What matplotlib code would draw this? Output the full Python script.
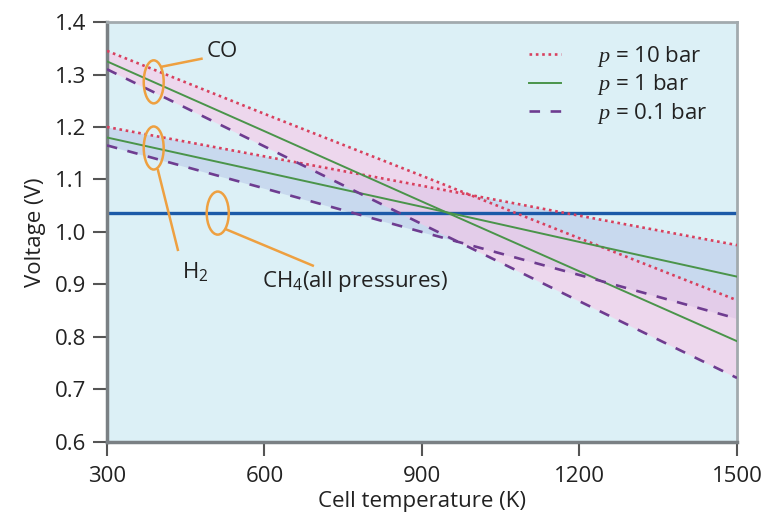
import matplotlib
matplotlib.use("Agg")
import matplotlib.pyplot as plt
from matplotlib.patches import Ellipse
import numpy as np

plt.rcParams['font.family'] = ['Open Sans', 'DejaVu Sans']
plt.rcParams['mathtext.fontset'] = 'custom'
plt.rcParams['mathtext.rm'] = 'Open Sans'
plt.rcParams['mathtext.it'] = 'Liberation Serif:italic'

# Data
temperature = [300, 600, 900, 1200, 1500]
co_p10 = [1.345, 1.225, 1.107, 0.988, 0.870]
co_p1 = [1.325, 1.192, 1.058, 0.925, 0.792]
co_p01 = [1.310, 1.163, 1.015, 0.868, 0.722]
h2_p10 = [1.200, 1.144, 1.088, 1.031, 0.975]
h2_p1 = [1.180, 1.114, 1.048, 0.981, 0.915]
h2_p01 = [1.165, 1.083, 1.000, 0.918, 0.835]
ch4_voltage = 1.036
legend_labels = ['$p$ = 10 bar', '$p$ = 1 bar', '$p$ = 0.1 bar']
x_ticks = [300, 600, 900, 1200, 1500]
y_ticks = [0.6, 0.7, 0.8, 0.9, 1.0, 1.1, 1.2, 1.3, 1.4]

red = '#d8405e'
green = '#4a944a'
purple = '#6e3c90'
blue = '#1c5aa8'
orange = '#eea040'
text_c = '#222222'

fig = plt.figure(figsize=(7.68, 5.19), dpi=100)
ax = fig.add_axes([0.1393, 0.1484, 0.8203, 0.8092])
ax.set_facecolor('#dcf0f6')

# bands
ax.fill_between(temperature, h2_p01, h2_p10, color='#b0bde6', alpha=0.45, lw=0, zorder=1)
ax.fill_between(temperature, co_p01, co_p10, color='#ffc0e6', alpha=0.50, lw=0, zorder=1)

ax.axhline(ch4_voltage, color=blue, lw=2.4, zorder=2)

dot = (0, (1.0, 1.4))
dash = (0, (4, 4))
l10, = ax.plot(temperature, co_p10, color=red, lw=1.9, ls=dot, zorder=3)
ax.plot(temperature, h2_p10, color=red, lw=1.9, ls=dot, zorder=3)
l1, = ax.plot(temperature, co_p1, color=green, lw=1.4, zorder=3)
ax.plot(temperature, h2_p1, color=green, lw=1.4, zorder=3)
l01, = ax.plot(temperature, co_p01, color=purple, lw=1.9, ls=dash, zorder=3)
ax.plot(temperature, h2_p01, color=purple, lw=1.9, ls=dash, zorder=3)

ax.set_xlim(300, 1500)
ax.set_ylim(0.6, 1.4)
ax.set_xticks(x_ticks)
ax.set_yticks(y_ticks)
ax.set_yticklabels([f'{v:.1f}' for v in y_ticks])
ax.tick_params(axis='both', direction='out', length=10, width=1.5, color='#555555',
               labelsize=16, labelcolor=text_c)
ax.tick_params(axis='x', pad=7)
ax.tick_params(axis='y', pad=5)

for side in ['left', 'bottom']:
    ax.spines[side].set_color('#7a8084')
    ax.spines[side].set_linewidth(2.5)
for side in ['top', 'right']:
    ax.spines[side].set_color('#a2aaae')
    ax.spines[side].set_linewidth(2.0)

ax.set_xlabel('Cell temperature (K)', fontsize=16, color=text_c, labelpad=3)
ax.set_ylabel('Voltage (V)', fontsize=16, color=text_c, labelpad=6)

leg = ax.legend([l10, l1, l01], legend_labels, loc='upper right', frameon=False,
                fontsize=16, handlelength=1.45, handletextpad=1.6, labelspacing=0.15,
                bbox_to_anchor=(0.985, 0.995), prop={'size': 16})
for t in leg.get_texts():
    t.set_color(text_c)

# annotations (ellipses + leader lines)
ell_kw = dict(fill=False, edgecolor=orange, lw=1.8, zorder=4)
ax.add_patch(Ellipse((389, 1.286), 38, 0.082, **ell_kw))
ax.add_patch(Ellipse((389, 1.160), 38, 0.082, **ell_kw))
ax.add_patch(Ellipse((511, 1.036), 42, 0.082, **ell_kw))
ax.plot([405, 480], [1.315, 1.33], color=orange, lw=1.8, zorder=4)
ax.plot([397, 435], [1.118, 0.966], color=orange, lw=1.8, zorder=4)
ax.plot([527, 692], [1.005, 0.936], color=orange, lw=1.8, zorder=4)

ax.text(490, 1.343, 'CO', fontsize=16, color=text_c, va='center', ha='left')
ax.text(443, 0.925, 'H$_2$', fontsize=16, color=text_c, va='center', ha='left')
ax.text(595, 0.905, 'CH$_4$(all pressures)', fontsize=16, color=text_c, va='center', ha='left')

fig.savefig('out.png', dpi=100)
